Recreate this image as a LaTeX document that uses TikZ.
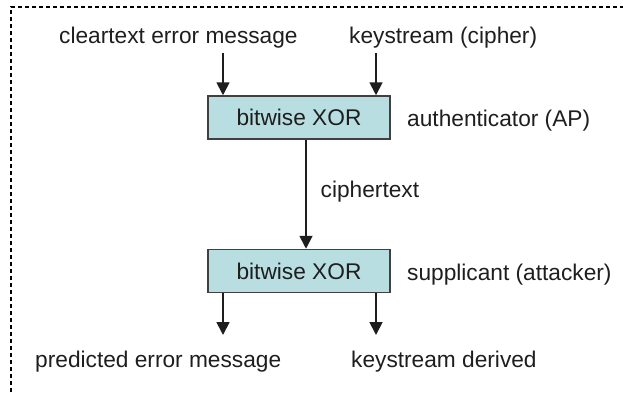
\documentclass[tikz,border=0pt]{standalone}
\usepackage{fontspec}
\setmainfont{Liberation Sans}
\usetikzlibrary{arrows.meta}
\definecolor{boxfill}{RGB}{184,222,226}
\definecolor{ink}{RGB}{30,30,30}
\begin{document}
\begin{tikzpicture}[x=1pt,y=-1pt,
  every node/.style={font=\fontsize{22.7}{27}\selectfont, text=ink},
  lbl/.style={anchor=base west, inner sep=0pt},
  xorbox/.style={draw=ink!85, line width=1.5pt, fill=boxfill, minimum width=182pt, minimum height=43pt, inner sep=0pt},
  arr/.style={draw=ink, line width=1.8pt, -{Triangle[width=13pt,length=13pt]}},
  frame/.style={draw=black, line width=2pt, dash pattern=on 4pt off 3pt}]
\useasboundingbox (0,0) rectangle (623,392);
\draw[frame] (11,392) -- (11,7) -- (623,7);

\node[lbl] (clear) at (59,43) {cleartext error message};
\node[lbl] (ks) at (349,43) {keystream (cipher)};
\node[xorbox] (b1) at (299,117.5) {bitwise XOR};
\node[lbl] (ap) at (407,126.7) {authenticator (AP)};
\node[lbl] (ct) at (320.5,197) {ciphertext};
\node[xorbox] (b2) at (299,271) {bitwise XOR};
\node[lbl] (sup) at (407,280) {supplicant (attacker)};
\node[lbl] (pred) at (35,367) {predicted error message};
\node[lbl] (ksd) at (351,367) {keystream derived};

\coordinate (s1) at (223,53);
\coordinate (s2) at (376,53);
\coordinate (e1) at (223,335);
\coordinate (e2) at (376,335);

\draw[arr] (s1) -- (s1 |- b1.north);
\draw[arr] (s2) -- (s2 |- b1.north);
\draw[arr] ([xshift=7pt]b1.south) -- ([xshift=7pt]b2.north);
\draw[arr] (e1 |- b2.south) -- (e1);
\draw[arr] (e2 |- b2.south) -- (e2);
\end{tikzpicture}
\end{document}
